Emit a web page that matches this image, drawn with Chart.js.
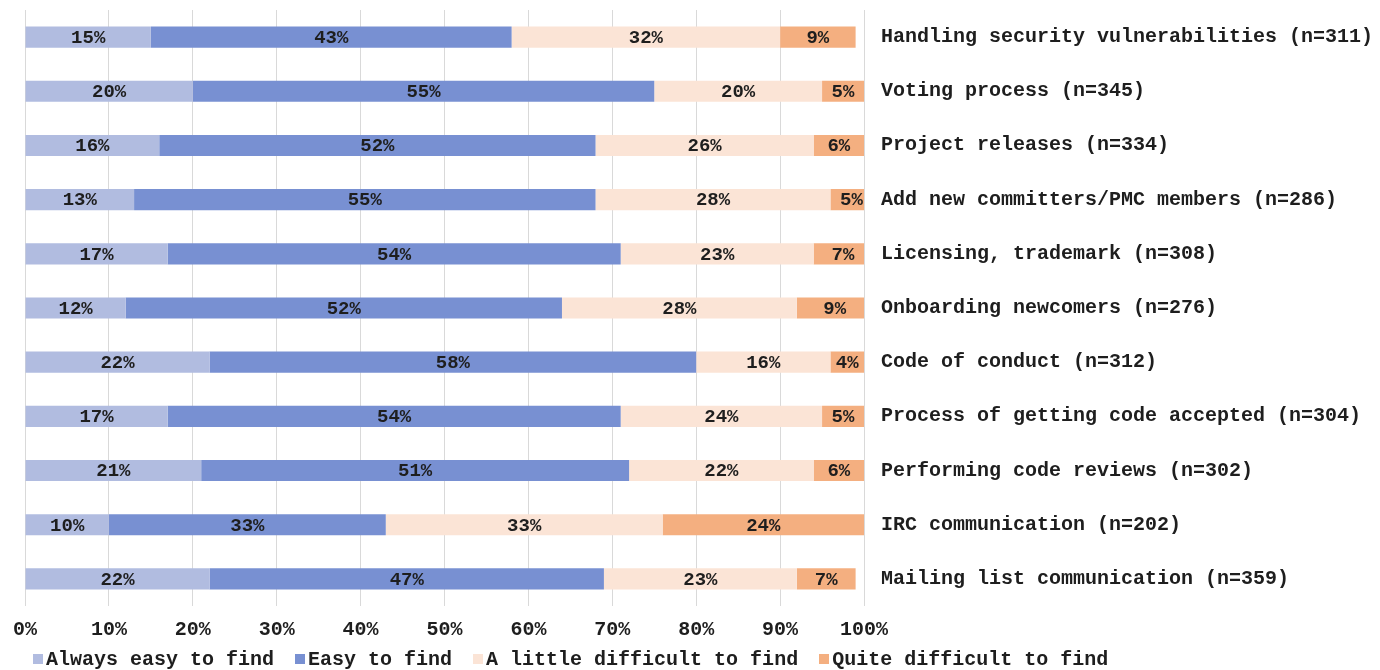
<!DOCTYPE html>
<html>
<head>
<meta charset="utf-8">
<title>Finding information</title>
<script src="https://cdn.jsdelivr.net/npm/chart.js@4.4.0/dist/chart.umd.min.js"></script>
<style>
  html, body { margin: 0; padding: 0; background: #fff; }
  #wrap { position: relative; width: 1380px; height: 670px; }
  #legend {
    position: absolute; left: 33px; top: 648px;
    font: bold 20px "Liberation Mono", "Courier New", monospace;
    color: #1e1e1e; white-space: nowrap; line-height: 24px;
  }
  #legend span.item { margin-right: 21px; }
  #legend span.box {
    display: inline-block; width: 10px; height: 10px; margin-right: 3px;
    vertical-align: 1px;
  }
</style>
</head>
<body>
<div id="wrap">
  <canvas id="js--chart--1" width="1380" height="670"></canvas>
  <div id="legend"></div>
</div>
<script>
const topics = [
    'Handling security vulnerabilities (n=311)',
    'Voting process (n=345)',
    'Project releases (n=334)',
    'Add new committers/PMC members (n=286)',
    'Licensing, trademark (n=308)',
    'Onboarding newcomers (n=276)',
    'Code of conduct (n=312)',
    'Process of getting code accepted (n=304)',
    'Performing code reviews (n=302)',
    'IRC communication (n=202)',
    'Mailing list communication (n=359)'
];

const alwaysEasy      = [15, 20, 16, 13, 17, 12, 22, 17, 21, 10, 22];
const easy            = [43, 55, 52, 55, 54, 52, 58, 54, 51, 33, 47];
const littleDifficult = [32, 20, 26, 28, 23, 28, 16, 24, 22, 33, 23];
const quiteDifficult  = [9, 5, 6, 5, 7, 9, 4, 5, 6, 24, 7];

const seriesNames = ['Always easy to find', 'Easy to find', 'A little difficult to find', 'Quite difficult to find'];
const seriesColors = ['#b1bce0', '#7890d2', '#fbe4d6', '#f4af80'];
const xTicks = [0, 10, 20, 30, 40, 50, 60, 70, 80, 90, 100];

const mono = '"Liberation Mono", "Courier New", monospace';

// percentage text in the middle of every segment
const segmentLabels = {
    id: 'segmentLabels',
    afterDatasetsDraw(chart) {
        const c = chart.ctx;
        c.save();
        c.font = 'bold 19px ' + mono;
        c.fillStyle = '#1e1e1e';
        c.textAlign = 'center';
        c.textBaseline = 'middle';
        chart.data.datasets.forEach((ds, i) => {
            chart.getDatasetMeta(i).data.forEach((bar, j) => {
                const p = bar.getProps(['x', 'y', 'base'], true);
                c.fillText(ds.data[j] + '%', (p.x + p.base) / 2, p.y + 1);
            });
        });
        c.restore();
    }
};

const ctx = document.getElementById('js--chart--1');

const allSeries = [alwaysEasy, easy, littleDifficult, quiteDifficult];

new Chart(ctx, {
    type: 'bar',
    data: {
        labels: topics,
        datasets: allSeries.map((vals, i) => ({
            label: seriesNames[i],
            data: vals,
            backgroundColor: seriesColors[i],
            borderWidth: 0,
            barPercentage: 0.39,
            categoryPercentage: 1
        }))
    },
    options: {
        indexAxis: 'y',
        responsive: false,
        animation: false,
        layout: { padding: { left: 25, top: 10, right: 0, bottom: 24 } },
        plugins: {
            legend: { display: false },
            tooltip: { enabled: false }
        },
        scales: {
            x: {
                stacked: true,
                min: 0,
                max: 100,
                afterBuildTicks: (scale) => { scale.ticks = xTicks.map(v => ({ value: v })); },
                afterFit: (scale) => { scale.height = 40; },
                grid: { color: '#d9d9d9', lineWidth: 1, drawTicks: false },
                border: { display: false },
                ticks: {
                    padding: 12,
                    color: '#1e1e1e',
                    font: { family: mono, size: 20, weight: 'bold' },
                    callback: (v) => v + '%'
                }
            },
            y: {
                stacked: true,
                position: 'right',
                afterFit: (scale) => {
                    scale.width = 516;
                    // labels sit beside the bars, no extra room above/below
                    scale.paddingTop = 0;
                    scale.paddingBottom = 0;
                },
                grid: { display: false, drawTicks: false },
                border: { display: false },
                ticks: {
                    padding: 17,
                    color: '#1e1e1e',
                    font: { family: mono, size: 20, weight: 'bold' }
                }
            }
        }
    },
    plugins: [segmentLabels]
});

// legend under the axis
const legend = document.getElementById('legend');
seriesNames.forEach((name, i) => {
    const item = document.createElement('span');
    item.className = 'item';
    const box = document.createElement('span');
    box.className = 'box';
    box.style.background = seriesColors[i];
    item.appendChild(box);
    item.appendChild(document.createTextNode(name));
    legend.appendChild(item);
});
</script>
</body>
</html>
